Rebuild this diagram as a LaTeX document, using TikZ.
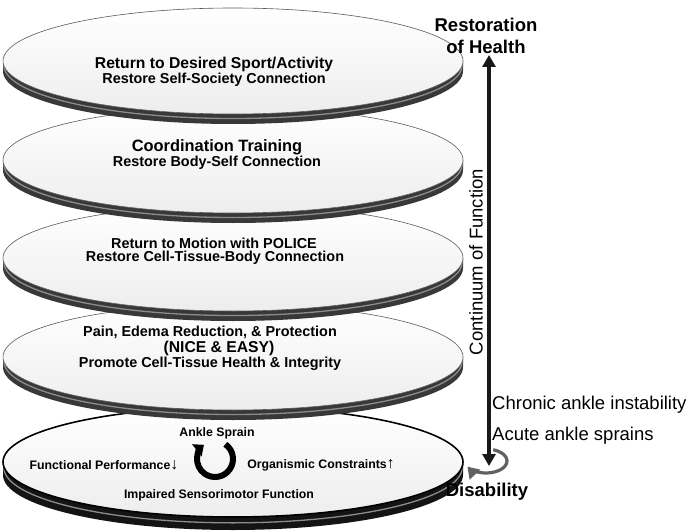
\documentclass[tikz,border=0pt]{standalone}
\usepackage{fontspec}
\setmainfont{Liberation Sans}
\usetikzlibrary{arrows.meta}
\newcommand\fsz[1]{\fontsize{#1}{#1}\selectfont}
\newcommand\updown[1]{{\mdseries\fsz{16}#1}}
% one platter: centre x, centre y, rim thickness, y radius
\newcommand\platter[4]{%
  \fill[rimband] (#1-230,#2) -- (#1-230,#2+#3)
    arc[start angle=180, end angle=0, x radius=230, y radius=#4]
    -- (#1+230,#2) arc[start angle=0, end angle=180, x radius=230, y radius=#4] -- cycle;
  \draw[grooveline] (#1-229,#2+0.45*#3)
    arc[start angle=180, end angle=0, x radius=229, y radius=#4];
  \shadedraw[topface] (#1,#2) ellipse[x radius=230, y radius=#4];
}
\tikzset{
  rimband/.style={fill=black!78},
  grooveline/.style={draw=black!45, line width=1.3pt},
  topface/.style={top color=white, bottom color=black!7, draw=black!65, line width=0.6pt},
  head/.style={inner sep=0pt, font=\bfseries\fsz{15.7}},
  sub/.style={inner sep=0pt, font=\bfseries\fsz{14.4}},
  small/.style={inner sep=0pt, font=\bfseries\fsz{12.3}},
  endlabel/.style={inner sep=0pt, align=center, font=\bfseries\fontsize{18.5}{22}\selectfont},
  sidelabel/.style={inner sep=0pt, anchor=west, font=\fsz{18.5}},
  bigarrow/.style={line width=3.5pt, black!90,
    {Triangle[width=13pt,length=12pt]}-{Triangle[width=13pt,length=12pt]}},
  spinarrow/.style={line width=6pt, black, -{Triangle[width=15pt,length=9pt]}},
  cyclearrow/.style={line width=3.2pt, black!62, -{Triangle[width=14pt,length=11pt]}}
}
\begin{document}
\begin{tikzpicture}[x=1pt, y=-1pt]
  \useasboundingbox (0,0) rectangle (690,532);

  % platters, lowest first
  \begin{scope}[rimband/.append style={fill=black!92},
                topface/.append style={draw=black, line width=1.6pt}]
    \platter{233}{462}{13}{55}
  \end{scope}
  \platter{233}{357}{10}{53}
  \platter{233}{258}{10}{53}
  \platter{233}{160}{10}{53}
  \platter{233}{61}{10}{53}

  \node[head] (sport) at (214,64) {Return to Desired Sport/Activity};
  \node[sub] (society) at (214,80) {Restore Self-Society Connection};

  \node[head, font=\bfseries\fsz{16.4}] (coord) at (217,147) {Coordination Training};
  \node[sub] (bodyself) at (217,163) {Restore Body-Self Connection};

  \node[sub] (motion) at (214,243) {Return to Motion with POLICE};
  \node[sub] (celltissue) at (215,258) {Restore Cell-Tissue-Body Connection};

  \node[sub] (pain) at (210,332) {Pain, Edema Reduction, \& Protection};
  \node[head] (nice) at (219,348) {(NICE \& EASY)};
  \node[sub] (promote) at (210,364) {Promote Cell-Tissue Health \& Integrity};

  \node[small] (sprain) at (217,433) {Ankle Sprain};
  \node[small] (funcperf) at (104,465) {Functional Performance\updown{↓}};
  \node[small] (organism) at (321,465) {Organismic Constraints\updown{↑}};
  \node[small] (impaired) at (219,495) {Impaired Sensorimotor Function};
  \draw[spinarrow] (215,459) ++(-55:18) arc[start angle=-55, end angle=232, radius=18];

  % continuum
  \node[endlabel] (health) at (486,36) {Restoration\\of Health};
  \node[endlabel] (disab) at (487,492) {Disability};
  \node[rotate=90, inner sep=0pt, font=\fsz{18.5}] (cont) at (476,262) {Continuum of Function};
  \node[sidelabel] (chronic) at (492,405) {Chronic ankle instability};
  \node[sidelabel] (acute) at (492,436) {Acute ankle sprains};

  \coordinate (top) at (489,55);
  \coordinate (bottom) at (489,466);
  \draw[cyclearrow] (486,461) ++(-70:21 and 12) arc[start angle=-70, end angle=152, x radius=21, y radius=12];
  \draw[bigarrow] (bottom) -- (top);
\end{tikzpicture}
\end{document}
